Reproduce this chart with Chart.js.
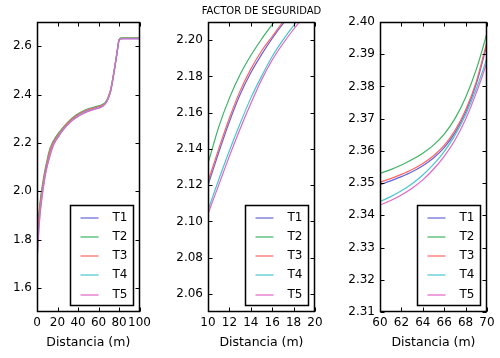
<!DOCTYPE html>
<html>
<head>
<meta charset="utf-8">
<script src="https://cdn.jsdelivr.net/npm/chart.js@4.4.1/dist/chart.umd.min.js"></script>
<style>
  body { margin: 0; background: #fff; }
  #wrap { position: relative; width: 500px; height: 358px; }
  canvas { position: absolute; top: 0; }
</style>
</head>
<body>
<div id="wrap">
  <canvas id="c1" width="155" height="358" style="left:0px"></canvas>
  <canvas id="c2" width="170" height="358" style="left:160px"></canvas>
  <canvas id="c3" width="170" height="358" style="left:330px"></canvas>
</div>
<script>
// Distancia (m) y factor de seguridad de cada serie
const distancia = [0, 0.5, 1, 2, 3, 4, 5, 6, 7, 8, 9,
  10, 11, 12, 13, 14, 15, 16, 17, 18, 19, 20,
  22, 25, 30, 35, 40, 45, 50, 55,
  60, 61, 62, 63, 64, 65, 66, 67, 68, 69, 70,
  72, 74, 76, 78, 80, 82, 85, 90, 95, 100];

const t1 = [1.720, 1.790, 1.840, 1.900, 1.940, 1.975, 2.005, 2.032, 2.057, 2.080, 2.101,
  2.120, 2.138, 2.155, 2.170, 2.182, 2.192, 2.201, 2.209, 2.216, 2.222, 2.228,
  2.240, 2.257, 2.281, 2.301, 2.316, 2.328, 2.337, 2.3435,
  2.3495, 2.3507, 2.3520, 2.3535, 2.3554, 2.3578, 2.3610, 2.3656, 2.3720, 2.3808, 2.3932,
  2.420, 2.466, 2.518, 2.572, 2.625, 2.631, 2.632, 2.632, 2.632, 2.632];

const t2 = [1.735, 1.805, 1.855, 1.915, 1.955, 1.990, 2.019, 2.046, 2.070, 2.093, 2.113,
  2.132, 2.152, 2.168, 2.181, 2.1915, 2.2005, 2.2085, 2.216, 2.223, 2.229, 2.235,
  2.246, 2.262, 2.286, 2.305, 2.320, 2.332, 2.341, 2.347,
  2.3530, 2.3542, 2.3556, 2.3573, 2.3593, 2.3618, 2.3652, 2.3700, 2.3766, 2.3853, 2.3967,
  2.424, 2.470, 2.521, 2.575, 2.628, 2.634, 2.634, 2.634, 2.634, 2.634];

const t3 = [1.722, 1.792, 1.842, 1.902, 1.942, 1.977, 2.007, 2.034, 2.059, 2.082, 2.103,
  2.122, 2.140, 2.157, 2.172, 2.184, 2.194, 2.202, 2.210, 2.217, 2.223, 2.229,
  2.241, 2.258, 2.282, 2.302, 2.317, 2.329, 2.338, 2.3443,
  2.3503, 2.3514, 2.3527, 2.3542, 2.3561, 2.3585, 2.3617, 2.3663, 2.3727, 2.3815, 2.3940,
  2.421, 2.467, 2.519, 2.573, 2.626, 2.632, 2.632, 2.632, 2.632, 2.632];

const t4 = [1.705, 1.745, 1.790, 1.858, 1.912, 1.950, 1.984, 2.013, 2.040, 2.064, 2.087,
  2.106, 2.123, 2.139, 2.154, 2.168, 2.180, 2.191, 2.200, 2.208, 2.215, 2.221,
  2.234, 2.252, 2.276, 2.296, 2.311, 2.323, 2.332, 2.3385,
  2.3443, 2.3458, 2.3476, 2.3498, 2.3525, 2.3558, 2.3598, 2.3648, 2.3712, 2.3793, 2.3890,
  2.416, 2.462, 2.515, 2.570, 2.624, 2.631, 2.631, 2.631, 2.631, 2.631];

const t5 = [1.700, 1.738, 1.782, 1.850, 1.903, 1.943, 1.978, 2.009, 2.037, 2.063, 2.086,
  2.104, 2.120, 2.136, 2.151, 2.165, 2.178, 2.189, 2.198, 2.206, 2.213, 2.219,
  2.232, 2.250, 2.274, 2.294, 2.309, 2.321, 2.330, 2.3372,
  2.3432, 2.3446, 2.3463, 2.3484, 2.3510, 2.3543, 2.3583, 2.3633, 2.3698, 2.3780, 2.3878,
  2.415, 2.461, 2.514, 2.569, 2.623, 2.630, 2.630, 2.630, 2.630, 2.630];

const nombres = ['T1', 'T2', 'T3', 'T4', 'T5'];
const colores = ['#6464dc', '#3cb464', '#ff6464', '#46c8cd', '#e164c8'];

// Marcas de los ejes de cada panel
const xTicks1 = [0, 20, 40, 60, 80, 100];
const yTicks1 = [1.6, 1.8, 2.0, 2.2, 2.4, 2.6];
const xTicks2 = [10, 12, 14, 16, 18, 20];
const yTicks2 = [2.06, 2.08, 2.10, 2.12, 2.14, 2.16, 2.18, 2.20];
const xTicks3 = [60, 62, 64, 66, 68, 70];
const yTicks3 = [2.31, 2.32, 2.33, 2.34, 2.35, 2.36, 2.37, 2.38, 2.39, 2.40];

const FONT = 'DejaVu Sans';
const valores = [t1, t2, t3, t4, t5];

// marco negro, marcas hacia dentro y leyenda abajo a la derecha (estilo matplotlib)
const marco = {
  id: 'marco',
  afterDatasetsDraw(chart) {
    const { ctx, chartArea: a, scales } = chart;
    const L = Math.round(a.left) + 0.5, R = Math.round(a.right) - 0.5;
    const T = Math.round(a.top) + 0.5, B = Math.round(a.bottom) - 0.5;
    ctx.save();
    ctx.strokeStyle = '#000';
    ctx.lineWidth = 1;
    ctx.beginPath();
    scales.x.ticks.forEach(t => {
      const px = Math.round(scales.x.getPixelForValue(t.value)) + 0.5;
      ctx.moveTo(px, B); ctx.lineTo(px, B - 4);
      ctx.moveTo(px, T); ctx.lineTo(px, T + 4);
    });
    scales.y.ticks.forEach(t => {
      const py = Math.round(scales.y.getPixelForValue(t.value)) + 0.5;
      ctx.moveTo(L, py); ctx.lineTo(L + 4, py);
      ctx.moveTo(R, py); ctx.lineTo(R - 4, py);
    });
    ctx.stroke();
    ctx.lineWidth = 1.5;
    ctx.strokeRect(L, T, R - L, B - T);

    // leyenda
    const w = 63, h = 100;
    const bx = Math.round(a.right - 7 - w) + 0.5, by = Math.round(a.bottom - 7 - h) + 0.5;
    ctx.fillStyle = '#fff';
    ctx.fillRect(bx, by, w, h);
    ctx.lineWidth = 1.5;
    ctx.strokeRect(bx, by, w, h);
    ctx.font = '12px "' + FONT + '"';
    ctx.textBaseline = 'middle';
    ctx.textAlign = 'left';
    nombres.forEach((n, i) => {
      const y = Math.round(by + 12 + i * 19.3);
      ctx.strokeStyle = colores[i];
      ctx.lineWidth = 1.2;
      ctx.beginPath();
      ctx.moveTo(bx + 10, y); ctx.lineTo(bx + 28, y);
      ctx.stroke();
      ctx.fillStyle = '#000';
      ctx.fillText(n, bx + 42, y);
    });
    ctx.restore();
  }
};

const titulo = {
  id: 'titulo',
  afterDraw(chart) {
    const { ctx, chartArea: a } = chart;
    ctx.save();
    ctx.font = '10px "' + FONT + '"';
    ctx.fillStyle = '#000';
    ctx.textAlign = 'center';
    ctx.textBaseline = 'middle';
    ctx.fillText('FACTOR DE SEGURIDAD', (a.left + a.right) / 2, 11);
    ctx.restore();
  }
};

function panel(id, xMin, xMax, yMin, yMax, xTicks, yTicks, dec, yWidth, padRight, extra) {
  new Chart(document.getElementById(id), {
    type: 'line',
    data: {
      datasets: nombres.map((n, i) => ({
        label: n,
        data: distancia.map((d, k) => ({ x: d, y: valores[i][k] })),
        borderColor: colores[i],
        borderWidth: 1.2,
        pointRadius: 0,
        cubicInterpolationMode: 'monotone',
        order: nombres.length - i
      }))
    },
    options: {
      responsive: false,
      animation: false,
      layout: { padding: { top: 22, right: padRight, left: 0, bottom: 0 } },
      plugins: { legend: { display: false }, tooltip: { enabled: false } },
      scales: {
        x: {
          type: 'linear', min: xMin, max: xMax,
          grid: { display: false, drawTicks: false },
          border: { display: false },
          afterBuildTicks: s => { s.ticks = xTicks.map(v => ({ value: v })); },
          afterFit: s => { s.height = 46; },
          ticks: { padding: 4, color: '#000', font: { family: FONT, size: 12 },
            maxRotation: 0, autoSkip: false, callback: v => String(v) },
          title: { display: true, text: 'Distancia (m)', color: '#000',
            font: { family: FONT, size: 12.5 }, padding: { top: 0, bottom: 8 } }
        },
        y: {
          min: yMin, max: yMax,
          grid: { display: false, drawTicks: false },
          border: { display: false },
          afterBuildTicks: s => { s.ticks = yTicks.map(v => ({ value: v })); },
          afterFit: s => { s.width = yWidth; },
          ticks: { padding: 5, color: '#000', font: { family: FONT, size: 12 },
            autoSkip: false, callback: v => Number(v).toFixed(dec) }
        }
      }
    },
    plugins: [marco].concat(extra || [])
  });
}

panel('c1', 0, 100, 1.5, 2.7, xTicks1, yTicks1, 1, 37, 12);
panel('c2', 10, 20, 2.05, 2.21, xTicks2, yTicks2, 2, 48, 15, [titulo]);
panel('c3', 60, 70, 2.31, 2.40, xTicks3, yTicks3, 2, 50, 13);
</script>
</body>
</html>
